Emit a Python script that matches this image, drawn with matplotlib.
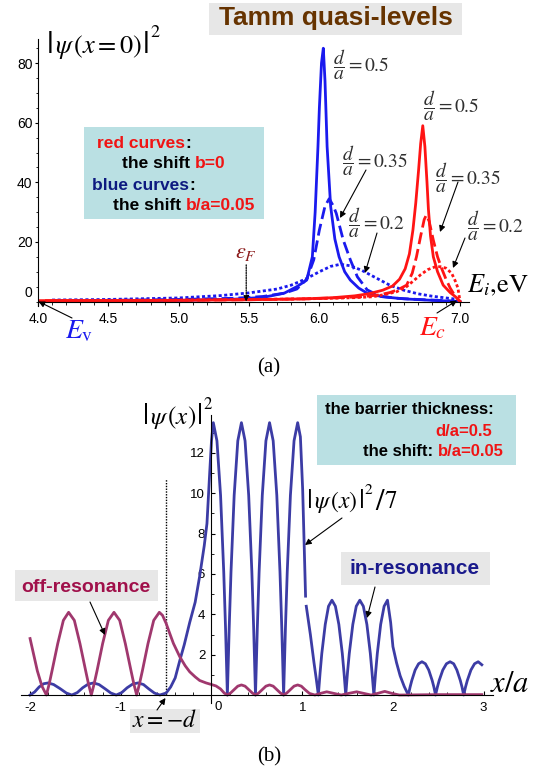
import matplotlib
matplotlib.use('Agg')
import matplotlib.pyplot as plt
from matplotlib.patches import Rectangle, FancyArrowPatch
from matplotlib.transforms import Affine2D
from matplotlib.ticker import MultipleLocator

plt.rcParams['font.family'] = ['Liberation Sans', 'DejaVu Sans']
plt.rcParams['mathtext.fontset'] = 'stix'

# ---------------- data: panel (a) ----------------
# blue curves (shift b/a = 0.05)
E_blue_solid = [4.1, 4.5, 5.0, 5.4, 5.6, 5.75, 5.84, 5.91, 5.95, 5.97, 5.99, 6.0, 6.015, 6.028,
                6.04, 6.055, 6.08, 6.11, 6.14, 6.18, 6.22, 6.28, 6.34, 6.45, 6.6, 6.8, 7.0]
P_blue_solid = [0.1, 0.2, 0.4, 0.8, 1.4, 2.8, 5.0, 7.2, 15, 30, 52, 65, 80, 85,
                74, 52, 32, 21, 15, 10, 7.2, 4.5, 2.8, 1.6, 0.9, 0.4, 0.0]
E_blue_dash = [4.1, 4.5, 5.0, 5.4, 5.6, 5.75, 5.84, 5.91, 5.96, 6.0, 6.04, 6.07, 6.1, 6.12,
               6.17, 6.22, 6.27, 6.34, 6.43, 6.55, 6.7, 6.85, 7.0]
P_blue_dash = [0.3, 0.4, 0.7, 1.1, 1.7, 2.8, 4.2, 7.5, 14, 24, 32, 34.5, 32, 29.6,
               20.6, 14, 8.3, 3.9, 1.8, 1.1, 0.7, 0.4, 0.0]
E_blue_dot = [4.1, 4.5, 5.0, 5.3, 5.5, 5.7, 5.8, 5.9, 6.0, 6.08, 6.15, 6.22, 6.3, 6.4,
              6.5, 6.6, 6.7, 6.8, 6.9, 6.97, 7.0]
P_blue_dot = [0.5, 0.7, 1.2, 2.0, 2.9, 4.2, 5.5, 7.5, 10, 11.8, 12.5, 12.0, 10.5, 8,
              5.5, 3.8, 2.6, 1.8, 1.2, 0.8, 0.0]
# red curves (shift b = 0)
E_red_solid = [4.0, 4.5, 5.0, 5.5, 5.9, 6.1, 6.25, 6.35, 6.45, 6.52, 6.57, 6.61, 6.64, 6.665,
               6.685, 6.705, 6.72, 6.735, 6.75, 6.765, 6.775, 6.79, 6.81, 6.84, 6.88, 6.93, 6.97, 7.0]
P_red_solid = [0.3, 0.3, 0.4, 0.6, 0.9, 1.3, 1.9, 2.6, 3.8, 5.2, 7.5, 11, 16, 24,
               33, 44, 53, 59, 52, 40, 31, 22, 15, 10, 5.5, 3.0, 1.5, 0.0]
E_red_dash = [4.05, 4.5, 5.0, 5.5, 5.9, 6.1, 6.3, 6.42, 6.5, 6.56, 6.62, 6.66, 6.69, 6.72,
              6.745, 6.76, 6.78, 6.81, 6.84, 6.87, 6.9, 6.93, 6.96, 7.0]
P_red_dash = [0.3, 0.3, 0.4, 0.6, 0.9, 1.2, 1.6, 2.2, 3.0, 4.0, 5.5, 9.5, 15, 22,
              27.5, 29, 27, 20.6, 15, 11, 7.5, 4.5, 2.2, 0.0]
E_red_dot = [4.1, 4.5, 5.0, 5.5, 5.9, 6.1, 6.25, 6.38, 6.47, 6.55, 6.62, 6.67, 6.72, 6.77,
             6.82, 6.86, 6.9, 6.94, 6.965, 6.985, 7.0]
P_red_dot = [0.4, 0.4, 0.5, 0.7, 0.9, 1.1, 1.3, 1.6, 2.4, 3.3, 5.0, 7.0, 9.0, 10.7,
             11.6, 11.7, 11.2, 9.5, 7.0, 4.5, 0.0]
d_over_a = [0.5, 0.35, 0.2]
E_v, E_c, E_F = 4.0, 7.0, 5.48
a_xticks = [4.0, 4.5, 5.0, 5.5, 6.0, 6.5, 7.0]
a_xticklabels = ['4.0', '4.5', '5.0', '5.5', '6.0', '6.5', '7.0']
a_yticks = [20, 40, 60, 80]
a_yticklabels = ['20', '40', '60', '80']

# ---------------- data: panel (b) ----------------
# in-resonance |psi|^2 (x < ~1.04, unscaled)
in_x1 = [-2.00, -1.95, -1.90, -1.85, -1.80, -1.74, -1.67, -1.60, -1.54,
         -1.48, -1.42, -1.36, -1.30, -1.24, -1.17, -1.11, -1.05,
         -0.99, -0.93, -0.87, -0.81, -0.75, -0.69, -0.63, -0.57,
         -0.50, -0.45, -0.40, -0.35, -0.30, -0.24, -0.18, -0.13, -0.08, -0.05, -0.02, 0.00, 0.02,
         0.06, 0.10, 0.135, 0.155, 0.175, 0.195, 0.215, 0.25, 0.29, 0.33,
         0.37, 0.41, 0.445, 0.465, 0.485, 0.505, 0.525, 0.56, 0.60, 0.64,
         0.68, 0.72, 0.755, 0.775, 0.795, 0.815, 0.835, 0.87, 0.91, 0.95,
         0.98, 1.005, 1.037]
in_y1 = [0.0, 0.15, 0.40, 0.56, 0.60, 0.52, 0.32, 0.10, 0.0,
         0.12, 0.36, 0.54, 0.60, 0.52, 0.30, 0.10, 0.0,
         0.12, 0.36, 0.54, 0.60, 0.52, 0.30, 0.10, 0.0,
         0.10, 0.4, 0.85, 1.7, 2.5, 3.6, 4.6, 5.9, 7.4, 8.5, 11.0, 12.6, 13.5,
         12.6, 9.9, 6.1, 3.3, 0.0, 3.3, 6.1, 9.9, 12.6, 13.5,
         12.6, 9.9, 6.1, 3.3, 0.0, 3.3, 6.1, 9.9, 12.6, 13.5,
         12.6, 9.9, 6.1, 3.3, 0.0, 3.3, 6.1, 9.9, 12.6, 13.5,
         12.8, 10.2, 4.9]
# in-resonance |psi|^2 / 7 (x > ~1.04)
in_x2 = [1.045, 1.09, 1.13, 1.155, 1.178,
         1.197, 1.216, 1.254, 1.29, 1.328, 1.366, 1.404, 1.442, 1.461, 1.48,
         1.499, 1.519, 1.558, 1.596, 1.635, 1.674, 1.713, 1.751, 1.77, 1.79,
         1.809, 1.828, 1.865, 1.903, 1.94, 1.975, 2.0, 2.04, 2.08, 2.125, 2.17,
         2.189, 2.208, 2.245, 2.283, 2.32, 2.358, 2.395, 2.433, 2.452, 2.47,
         2.49, 2.51, 2.55, 2.59, 2.63, 2.67, 2.705, 2.743, 2.762, 2.78,
         2.80, 2.82, 2.86, 2.90, 2.94, 2.98]
in_y2 = [4.4, 3.0, 1.6, 0.8, 0.0,
         1.1, 2.06, 3.5, 4.4, 4.7, 4.4, 3.5, 2.06, 1.1, 0.0,
         1.1, 2.06, 3.5, 4.4, 4.7, 4.4, 3.5, 2.06, 1.1, 0.0,
         1.1, 2.06, 3.5, 4.4, 4.7, 3.6, 2.4, 1.6, 0.95, 0.42, 0.0,
         0.39, 0.72, 1.24, 1.55, 1.65, 1.55, 1.24, 0.72, 0.39, 0.0,
         0.39, 0.72, 1.24, 1.55, 1.65, 1.55, 1.24, 0.72, 0.39, 0.0,
         0.39, 0.72, 1.24, 1.55, 1.65, 1.5]
# off-resonance |psi|^2
off_x = [-2.0, -1.96, -1.92, -1.87, -1.82,
         -1.789, -1.758, -1.695, -1.633, -1.575, -1.512, -1.45, -1.387, -1.356, -1.325,
         -1.294, -1.262, -1.2, -1.137, -1.075, -1.012, -0.95, -0.887, -0.856, -0.825,
         -0.794, -0.762, -0.70, -0.637, -0.575,
         -0.54, -0.50, -0.46, -0.42, -0.35, -0.29, -0.24, -0.18, -0.13, -0.06, 0.0,
         0.05, 0.10, 0.14, 0.175, 0.21, 0.25, 0.29, 0.33, 0.37, 0.41, 0.45, 0.485,
         0.52, 0.56, 0.60, 0.64, 0.68, 0.72, 0.76, 0.795,
         0.83, 0.87, 0.91, 0.95, 0.99, 1.03, 1.08, 1.14,
         1.2, 1.27, 1.35, 1.43, 1.51, 1.6, 1.68, 1.76, 1.83, 1.91, 1.99, 2.07, 2.5, 2.98]
off_y = [2.8, 2.0, 1.2, 0.45, 0.0,
         0.55, 1.2, 2.55, 3.7, 4.1, 3.7, 2.55, 1.2, 0.55, 0.0,
         0.55, 1.2, 2.55, 3.7, 4.1, 3.7, 2.55, 1.2, 0.55, 0.0,
         0.55, 1.2, 2.55, 3.7, 4.1,
         3.95, 3.55, 3.05, 2.56, 1.9, 1.45, 1.15, 0.9, 0.72, 0.6, 0.52,
         0.45, 0.3, 0.1, 0.0, 0.1, 0.27, 0.44, 0.5, 0.44, 0.27, 0.1, 0.0,
         0.1, 0.27, 0.44, 0.5, 0.44, 0.27, 0.1, 0.0,
         0.1, 0.27, 0.44, 0.5, 0.44, 0.27, 0.08, 0.0,
         0.08, 0.16, 0.08, 0.0, 0.08, 0.16, 0.08, 0.0, 0.08, 0.18, 0.08, 0.0, 0.02, 0.02]
barrier_d = 0.5
barrier_line_top = 10.7
b_xticks = [-2, -1, 1, 2, 3]
b_xticklabels = ['-2', '-1', '1', '2', '3']
b_yticks = [2, 4, 6, 8, 10, 12]
b_yticklabels = ['2', '4', '6', '8', '10', '12']

# ---------------- style ----------------
BLUE = '#1a1aee'
RED = '#ff1414'
INRES = '#3c3ca5'
OFFRES = '#a0386e'
TEAL = '#bae0e3'
GRAY = '#e7e7e7'
BROWN = '#663300'
TXT_RED = '#f01414'
NAVY = '#0d1a80'

W, H = 539, 776
fig = plt.figure(figsize=(W / 100, H / 100), dpi=100)
pt = Affine2D().scale(1 / W, -1 / H).translate(0, 1) + fig.transFigure
renderer = fig.canvas.get_renderer()


def rect(l, t, r, b):
    return [l / W, 1 - b / H, (r - l) / W, (b - t) / H]


def T(x, y, s, **kw):
    kw.setdefault('ha', 'center')
    kw.setdefault('va', 'center')
    return fig.text(x, y, s, transform=pt, **kw)


def box(x0, y0, x1, y1, color):
    fig.add_artist(Rectangle((x0, y0), x1 - x0, y1 - y0, transform=pt,
                             facecolor=color, edgecolor='none', zorder=0))


def arrow(x0, y0, x1, y1, ls='-', lw=0.8):
    fig.add_artist(FancyArrowPatch((x0, y0), (x1, y1), transform=pt,
                                   arrowstyle='-|>', mutation_scale=9, lw=lw, ls=ls,
                                   color='black', shrinkA=0, shrinkB=0, zorder=4))


def width(s, size):
    t = fig.text(0, 0, s, fontsize=size, weight='bold')
    w = t.get_window_extent(renderer).width
    t.remove()
    return w


def rich(x, y, parts, size):
    sp = width('a a', size) - width('aa', size)
    cur = x
    for s, c in parts:
        if s == ' ':
            cur += sp
            continue
        t = T(cur, y, s, ha='left', color=c, fontsize=size, weight='bold')
        cur += t.get_window_extent(renderer).width


def mpieces(x, yb, parts):
    """Place math pieces side by side on a common baseline: (text, size, dx, dy)."""
    cur = x
    for s, size, dx, dy in parts:
        t = T(cur + dx, yb + dy, s, ha='left', va='baseline', fontsize=size,
              family='STIXGeneral')
        cur += dx + t.get_window_extent(renderer).width


# ================= panel (a) =================
axa = fig.add_axes(rect(38, 39.3, 468.5, 306))
axa.patch.set_visible(False)
for s in ['top', 'right']:
    axa.spines[s].set_visible(False)
axa.spines['bottom'].set_position(('data', 0))
for s in ['left', 'bottom']:
    axa.spines[s].set_linewidth(0.8)
axa.set_xlim(4.0, 7.06)
axa.set_ylim(-1.5, 88)

lw = 2.0
axa.plot(E_blue_dot, P_blue_dot, color=BLUE, lw=lw, dashes=(1.1, 0.9))
axa.plot(E_blue_dash, P_blue_dash, color=BLUE, lw=lw, dashes=(4.3, 1.8))
axa.plot(E_blue_solid, P_blue_solid, color=BLUE, lw=lw)
axa.plot(E_red_dot, P_red_dot, color=RED, lw=lw, dashes=(1.1, 0.9))
axa.plot(E_red_dash, P_red_dash, color=RED, lw=lw, dashes=(4.3, 1.8))
axa.plot(E_red_solid, P_red_solid, color=RED, lw=lw)

axa.set_xticks(a_xticks, a_xticklabels, fontsize=10)
axa.xaxis.set_minor_locator(MultipleLocator(0.1))
axa.set_yticks(a_yticks, a_yticklabels, fontsize=10)
axa.yaxis.set_minor_locator(MultipleLocator(5))
axa.tick_params(axis='x', which='major', direction='out', length=3, width=0.8, pad=4.5)
axa.tick_params(axis='x', which='minor', direction='out', length=1.8, width=0.6)
axa.tick_params(axis='y', which='major', direction='out', length=2.5, width=0.8, pad=1.5)
axa.tick_params(axis='y', which='minor', direction='out', length=1.5, width=0.6)
T(32, 293, '0', ha='right', fontsize=10)

# E_F marker
axa.annotate('', xy=(E_F, 0), xytext=(E_F, 12.3),
             arrowprops=dict(arrowstyle='-|>', ls=(0, (1, 1)), lw=0.9, color='black',
                             mutation_scale=8, shrinkA=0, shrinkB=0))
axa.text(E_F, 16.5, r'$\varepsilon_F$', color='#8b1a1a', fontsize=16, ha='center', va='center')

# title and labels
box(209, 3, 462, 35, GRAY)
T(335.5, 18.5, 'Tamm quasi-levels', fontsize=19, weight='bold', color=BROWN)
mpieces(47, 53, [('|', 24, 0, 0), (r'$\psi\,(x=0)$', 19, 1, 0), ('|', 24, 1, 0),
                 ('2', 13, 0, -16)])
T(467, 285, r'$E_i,\!\mathrm{eV}$', ha='left', fontsize=19)
T(79, 331, r'$E_\mathrm{v}$', color=BLUE, fontsize=20)
T(433, 328, r'$E_c$', color=RED, fontsize=20)
arrow(72, 318, 38.5, 301.5)
arrow(437, 313, 457, 300.5)

# legend box
box(84, 127, 264, 219, TEAL)
rich(97, 143, [('red curves', TXT_RED), (':', 'black')], 12.5)
rich(122, 164, [('the shift', 'black'), (' ', None), ('b=0', TXT_RED)], 12.5)
rich(92, 185, [('blue curves', NAVY), (':', 'black')], 12.5)
rich(113, 206, [('the shift', 'black'), (' ', None), ('b/a=0.05', TXT_RED)], 12.5)

# d/a labels
FR = '#303030'
def frac(x, y, v):
    T(x, y, r'$\dfrac{d}{a}=%s$' % v, ha='left', fontsize=14, color=FR)

frac(333, 64.5, d_over_a[0])
frac(423, 106, d_over_a[0])
frac(342, 161, d_over_a[1])
frac(348, 223, d_over_a[2])
frac(435, 178, d_over_a[1])
frac(467, 225.5, d_over_a[2])
arrow(366, 170, 340, 218)
arrow(377, 233, 365, 273)
arrow(458, 182, 440, 232)
arrow(465, 238, 453, 268)

T(269, 368, '(a)', family='Liberation Serif', fontsize=15)

# ================= panel (b) =================
axb = fig.add_axes(rect(21.0, 414.6, 492.7, 703.1))
axb.patch.set_visible(False)
for s in ['top', 'right']:
    axb.spines[s].set_visible(False)
axb.spines['left'].set_position(('data', 0))
axb.spines['bottom'].set_position(('data', 0))
for s in ['left', 'bottom']:
    axb.spines[s].set_linewidth(0.8)
axb.set_xlim(-2.1, 3.1)
axb.set_ylim(-0.4, 13.9)

axb.plot([-barrier_d, -barrier_d], [0, barrier_line_top], color='black', lw=1.0, ls=(0, (1, 1)))
axb.plot(in_x1, in_y1, color=INRES, lw=2.0)
axb.plot(in_x2, in_y2, color=INRES, lw=2.0)
axb.plot(off_x, off_y, color=OFFRES, lw=2.0)

axb.set_xticks(b_xticks, b_xticklabels, fontsize=9.5)
axb.xaxis.set_minor_locator(MultipleLocator(0.2))
axb.set_yticks(b_yticks, b_yticklabels, fontsize=9.5)
axb.yaxis.set_minor_locator(MultipleLocator(1))
axb.tick_params(axis='x', which='major', direction='in', length=3, width=0.8, pad=5)
axb.tick_params(axis='x', which='minor', direction='in', length=2, width=0.6)
axb.tick_params(axis='y', which='major', direction='in', length=3, width=0.8, pad=4.5)
axb.tick_params(axis='y', which='minor', direction='in', length=2, width=0.6)
T(218.5, 707, '0', fontsize=9.5)

mpieces(143, 424, [('|', 22, 0, 0), (r'$\psi\,(x)$', 18, 1, 0), ('|', 22, 1, 0),
                   ('2', 12, 0, -15)])
mpieces(307, 508, [('|', 21, 0, 0), (r'$\psi\,(x)$', 17, 1, 0), ('|', 21, 1, 0),
                   ('2', 11, 0, -14), ('/', 22, 3, 2), ('7', 18, 1, 0)])
T(490, 684, r'$x/a$', ha='left', fontsize=22)
arrow(342, 518, 305, 545)

box(317, 395, 516, 465, TEAL)
rich(325, 410, [('the barrier thickness:', 'black')], 12)
rich(435, 431, [('d/a=0.5', TXT_RED)], 12)
rich(363, 452, [('the shift:', 'black'), (' ', None), ('b/a=0.05', TXT_RED)], 12)

box(341, 552, 490, 585, GRAY)
T(415, 569, 'in-resonance', fontsize=15, weight='bold', color='#1a1a8c')
arrow(375, 587, 367, 618)

box(15, 570, 158, 601, GRAY)
T(86, 587, 'off-resonance', fontsize=14, weight='bold', color='#a0104a')
arrow(90, 602, 105, 635)

box(130, 709, 200, 733, GRAY)
T(164, 721, r'$x=-d$', fontsize=17)
arrow(157, 710, 165.5, 698)

T(269, 757, '(b)', family='Liberation Serif', fontsize=15)

fig.savefig('out.png', dpi=100)
